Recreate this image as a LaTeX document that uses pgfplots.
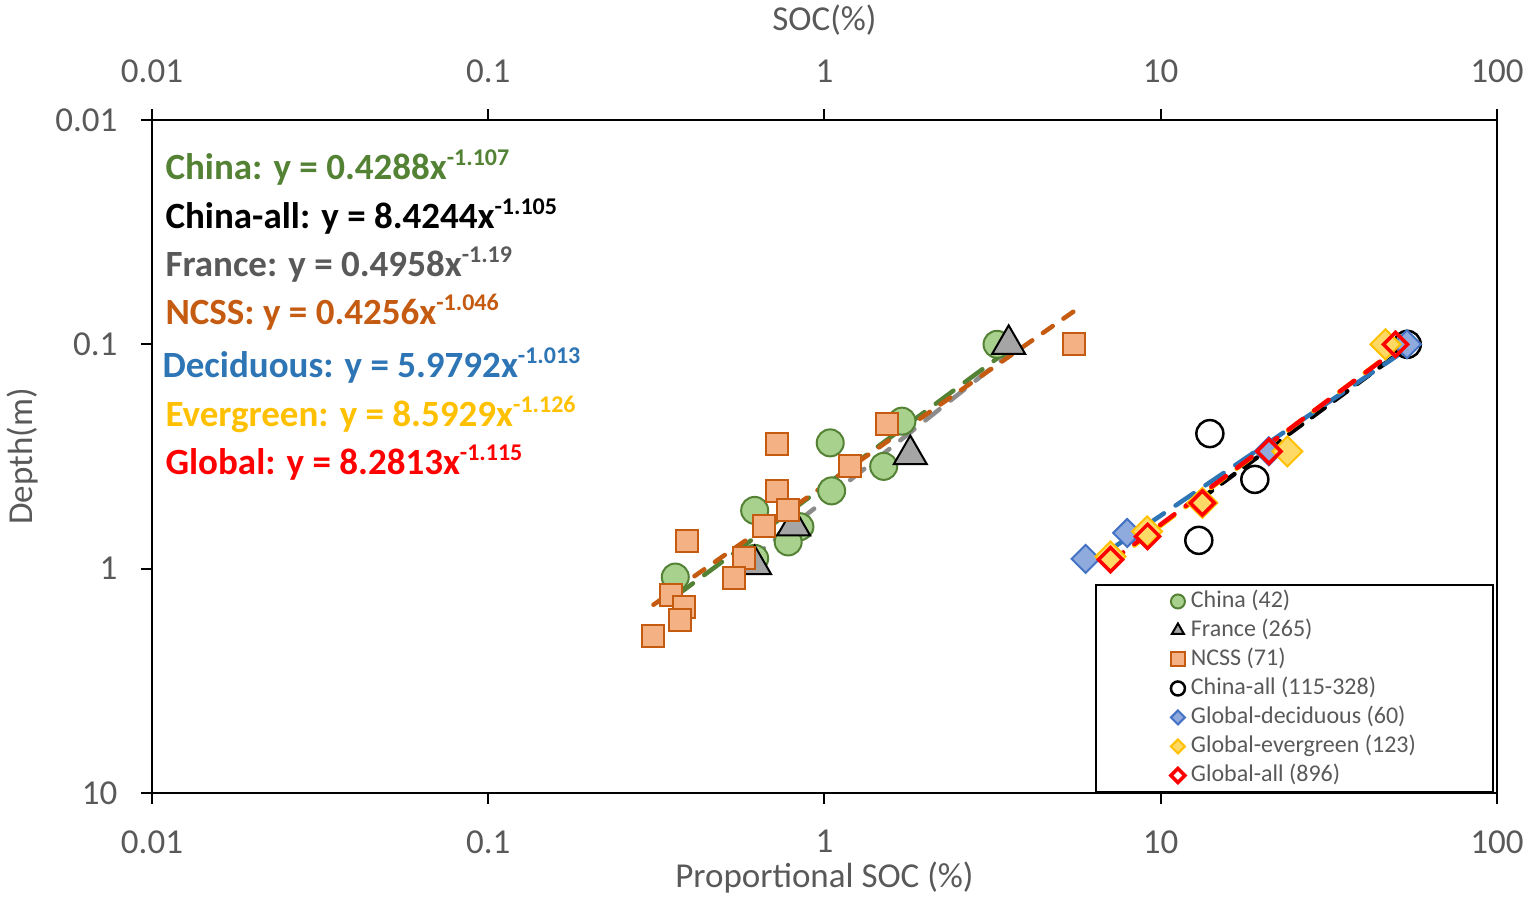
\documentclass[border=0pt]{standalone}
\usepackage{pgfplots}
\pgfplotsset{compat=1.18}
\usepackage{fontspec}
\setmainfont{Carlito}
\definecolor{labgray}{HTML}{595959}
\definecolor{cgreen}{HTML}{548235}
\definecolor{cgreenf}{HTML}{A9D18E}
\definecolor{corange}{HTML}{C55A11}
\definecolor{corangef}{HTML}{F4B183}
\definecolor{cgrayf}{HTML}{A5A5A5}
\definecolor{cgrayl}{HTML}{8C8C8C}
\definecolor{cblue}{HTML}{2E75B6}
\definecolor{cbluee}{HTML}{4472C4}
\definecolor{cbluef}{HTML}{8FAADC}
\definecolor{cyellow}{HTML}{FFC000}
\definecolor{cyellowf}{HTML}{FFD966}
\definecolor{cred}{HTML}{FF0000}
\pgfdeclareplotmark{rdiamond}{%
  \pgfpathmoveto{\pgfqpoint{0pt}{\pgfplotmarksize}}%
  \pgfpathlineto{\pgfqpoint{\pgfplotmarksize}{0pt}}%
  \pgfpathlineto{\pgfqpoint{0pt}{-\pgfplotmarksize}}%
  \pgfpathlineto{\pgfqpoint{-\pgfplotmarksize}{0pt}}%
  \pgfpathclose\pgfusepathqfillstroke}
\pgfdeclareplotmark{rdiamondo}{%
  \pgfpathmoveto{\pgfqpoint{0pt}{\pgfplotmarksize}}%
  \pgfpathlineto{\pgfqpoint{\pgfplotmarksize}{0pt}}%
  \pgfpathlineto{\pgfqpoint{0pt}{-\pgfplotmarksize}}%
  \pgfpathlineto{\pgfqpoint{-\pgfplotmarksize}{0pt}}%
  \pgfpathclose\pgfusepathqstroke}
\newcommand{\fA}{\fontsize{35}{42}\selectfont}
\newcommand{\fB}{\fontsize{37}{44}\selectfont\bfseries}
\newcommand{\eqsup}[1]{\raisebox{14pt}{\fontsize{24}{24}\selectfont #1}}
\begin{document}
\begin{tikzpicture}
\begin{axis}[
  at={(0pt,0pt)}, anchor=south west,
  scale only axis, width=1345pt, height=673pt,
  xmode=log, ymode=log,
  xmin=0.01, xmax=100, ymin=0.01, ymax=10, y dir=reverse,
  xtick={0.01,0.1,1,10,100}, xticklabels={0.01,0.1,1,10,100},
  ytick={0.01,0.1,1,10}, yticklabels={0.01,0.1,1,10},
  xminorticks=false, yminorticks=false,
  tick pos=left, tick align=outside, major tick length=11pt,
  axis line style={line width=2pt},
  tick style={line width=2pt, black},
  tick label style={font=\fA, text=labgray},
  xticklabel style={yshift=-23pt},
  yticklabel style={xshift=-20pt},
  xlabel={Proportional SOC (\%)}, ylabel={Depth(m)},
  every axis x label/.style={at={(axis description cs:0.5,-0.1263)}, anchor=center, font=\fA, text=labgray},
  every axis y label/.style={at={(axis description cs:-0.0959,0.5)}, rotate=90, anchor=center, font=\fA, text=labgray},
  legend style={at={(axis description cs:0.8494,0.1553)}, anchor=center,
    draw=black, line width=2pt, fill=white,
    font=\fontsize{24}{29}\selectfont, text=labgray,
    minimum width=397pt, minimum height=203pt, row sep=0pt,
    /tikz/every odd column/.append style={column sep=4pt},
    nodes={inner ysep=2pt, inner xsep=2pt, minimum width=0pt, minimum height=0pt, text height=19pt, text depth=6pt, text=labgray}},
  legend cell align=left,
  legend image post style={mark size=7pt},
]
% China
\addplot[only marks, mark=*, mark size=13.5pt, draw=cgreen, fill=cgreenf, line width=2pt]
  coordinates {(3.26,0.1) (1.70,0.22) (1.04,0.275) (1.50,0.35) (1.05,0.45) (0.62,0.55) (0.845,0.65) (0.78,0.76) (0.62,0.9) (0.36,1.09)};
\addlegendentry{China (42)}
% France
\addplot[only marks, mark=triangle*, mark size=19pt, draw=black, fill=cgrayf, line width=2pt]
  coordinates {(3.53,0.1) (1.80,0.31) (0.81,0.645) (0.62,0.96)};
\addlegendentry{France (265)}
% NCSS
\addplot[only marks, mark=square*, mark size=11pt, draw=corange, fill=corangef, line width=2pt]
  coordinates {(5.51,0.1) (1.53,0.226) (0.723,0.277) (1.19,0.35) (0.723,0.452) (0.778,0.55) (0.66,0.648) (0.389,0.755) (0.578,0.896) (0.537,1.10) (0.35,1.306) (0.382,1.48) (0.371,1.70) (0.309,2.0)};
\addlegendentry{NCSS (71)}
% China-all
\addplot[only marks, mark=o, mark size=13.5pt, draw=black, line width=2.5pt]
  coordinates {(54.1,0.1) (14.0,0.25) (19.05,0.40) (12.98,0.748)};
\addlegendentry{China-all (115-328)}
% Global deciduous
\addplot[only marks, mark=rdiamond, mark size=14pt, draw=cbluee, fill=cbluef, line width=2pt]
  coordinates {(54,0.1) (20.96,0.30) (7.95,0.693) (5.98,0.905)};
\addlegendentry{Global-deciduous (60)}
% Global evergreen
\addplot[only marks, mark=rdiamond, mark size=15pt, draw=cyellow, fill=cyellowf, line width=2pt]
  coordinates {(46.6,0.1) (23.8,0.3) (13.3,0.509) (9.11,0.682) (7.09,0.882)};
\addlegendentry{Global-evergreen (123)}
% Global all
\addplot[only marks, mark=rdiamondo, mark size=12pt, draw=cred, line width=3.5pt]
  coordinates {(49.9,0.1) (21.0,0.3) (13.3,0.51) (9.14,0.718) (7.09,0.912)};
\addlegendentry{Global-all (896)}
% trend lines
\addplot[forget plot, no markers, cgreen, line width=4.5pt, line cap=round, dash pattern=on 22pt off 14pt]
  coordinates {(0.36,1.33) (3.3,0.114)};
\addplot[forget plot, no markers, cgrayl, line width=4.5pt, line cap=round, dash pattern=on 18pt off 14pt]
  coordinates {(0.6,0.911) (3.5,0.112)};
\addplot[forget plot, no markers, corange, line width=4.5pt, line cap=round, dash pattern=on 12pt off 13pt]
  coordinates {(0.31,1.449) (5.5,0.0715)};
\addplot[forget plot, no markers, black, line width=4.5pt, line cap=round, dash pattern=on 16pt off 12pt]
  coordinates {(13,0.495) (54,0.103)};
\addplot[forget plot, no markers, cblue, line width=4.5pt, line cap=round, dash pattern=on 22pt off 14pt]
  coordinates {(6,0.973) (54,0.105)};
\addplot[forget plot, no markers, cyellow, line width=4.5pt, line cap=round, dash pattern=on 18pt off 14pt]
  coordinates {(7,0.961) (47,0.113)};
\addplot[forget plot, no markers, cred, line width=4.5pt, line cap=round, dash pattern=on 18pt off 14pt]
  coordinates {(7,0.945) (50,0.106)};
\end{axis}
\begin{axis}[
  at={(0pt,0pt)}, anchor=south west,
  scale only axis, width=1345pt, height=673pt,
  xmode=log, xmin=0.01, xmax=100, ymin=0, ymax=1,
  axis x line*=top, axis y line=none,
  xtick={0.01,0.1,1,10,100}, xticklabels={0.01,0.1,1,10,100},
  xminorticks=false,
  tick align=outside, major tick length=11pt,
  axis line style={line width=2pt, -},
  tick style={line width=2pt, black},
  tick label style={font=\fA, text=labgray},
  xticklabel style={yshift=23pt},
  xlabel={SOC(\%)},
  every axis x label/.style={at={(axis description cs:0.5,1.1486)}, anchor=center, font=\fA, text=labgray},
]
\addplot[draw=none, forget plot] coordinates {(1,0.5)};
\end{axis}
\node[anchor=base west, font=\fB, text=cgreen] at (10pt,613pt) {China: y = 0.4288x\eqsup{-1.107}};
\node[anchor=base west, font=\fB, text=black] at (10pt,564pt) {China-all: y = 8.4244x\eqsup{-1.105}};
\node[anchor=base west, font=\fB, text=labgray] at (10pt,516pt) {France: y = 0.4958x\eqsup{-1.19}};
\node[anchor=base west, font=\fB, text=corange] at (10pt,468pt) {NCSS: y = 0.4256x\eqsup{-1.046}};
\node[anchor=base west, font=\fB, text=cblue] at (7pt,415pt) {Deciduous: y = 5.9792x\eqsup{-1.013}};
\node[anchor=base west, font=\fB, text=cyellow] at (10pt,366pt) {Evergreen: y = 8.5929x\eqsup{-1.126}};
\node[anchor=base west, font=\fB, text=cred] at (10pt,318pt) {Global: y = 8.2813x\eqsup{-1.115}};
\pgfresetboundingbox
\path[use as bounding box] (-152pt,-108pt) rectangle (1383pt,793pt);
\end{tikzpicture}
\end{document}
